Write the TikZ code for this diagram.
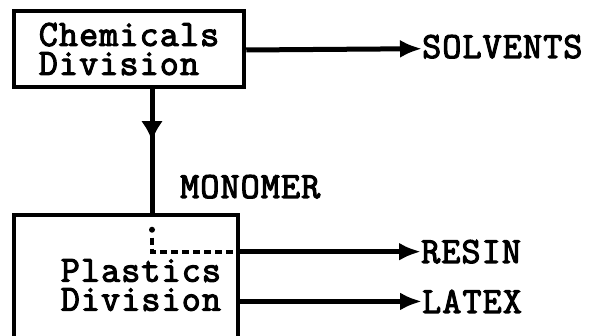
\documentclass[tikz,border=0pt]{standalone}
\usepackage{fontspec}
\usetikzlibrary{arrows.meta,decorations.markings}
% typewriter face, heavier and slightly wider-pitched
\newfontfamily\typer{Latin Modern Mono}[FakeBold=3, LetterSpace=3]
\begin{document}
\begin{tikzpicture}[x=1pt,y=-1pt,
  every node/.style={font=\typer\fontsize{37}{29}\selectfont, inner sep=0pt},
  divbox/.style={draw, line width=4.5pt, rectangle},
  flow/.style={line width=5pt, -{Latex[length=22pt,width=18pt]}},
  feed/.style={line width=5pt,
    postaction={decorate, decoration={markings,
      mark=at position 0.42 with {\arrow{Latex[length=20pt,width=22pt]}}}}},
  inner/.style={line width=4pt, dash pattern=on 7pt off 4pt},
  ]
\useasboundingbox (0,0) rectangle (592,336);

% division boxes
\node[divbox, align=left, minimum width=230pt, minimum height=76pt] (chem) at (129,49)
  {Chemicals\\Division};
\node[divbox, align=right, text width=190pt, minimum width=224pt, minimum height=140pt]
  (plast) at (126,285) {Plastics\\Division};

% product labels
\node[anchor=base west] (solv)  at (422,58)  {SOLVENTS};
\node[anchor=base west] (mono)  at (180,198) {MONOMER};
\node[anchor=base west] (resin) at (421,263) {RESIN};
\node[anchor=base west] (latex) at (422,313) {LATEX};

% flows
\draw[flow] (chem.east |- 0,50) -- ([yshift=-2pt]solv.west);
\draw[feed] ([xshift=23pt]chem.south) -- ([xshift=23pt]chem.south |- plast.north);
\draw[flow] (plast.east |- resin.west) -- (resin.west);
\draw[flow] (plast.east |- latex.west) -- (latex.west);

% monomer line continuing inside the plastics box
\fill ([xshift=26pt,yshift=-17pt]plast.north) circle (3pt);
\draw[inner] ([xshift=26pt,yshift=-25pt]plast.north) |- (plast.east |- resin.west);
\end{tikzpicture}
\end{document}
